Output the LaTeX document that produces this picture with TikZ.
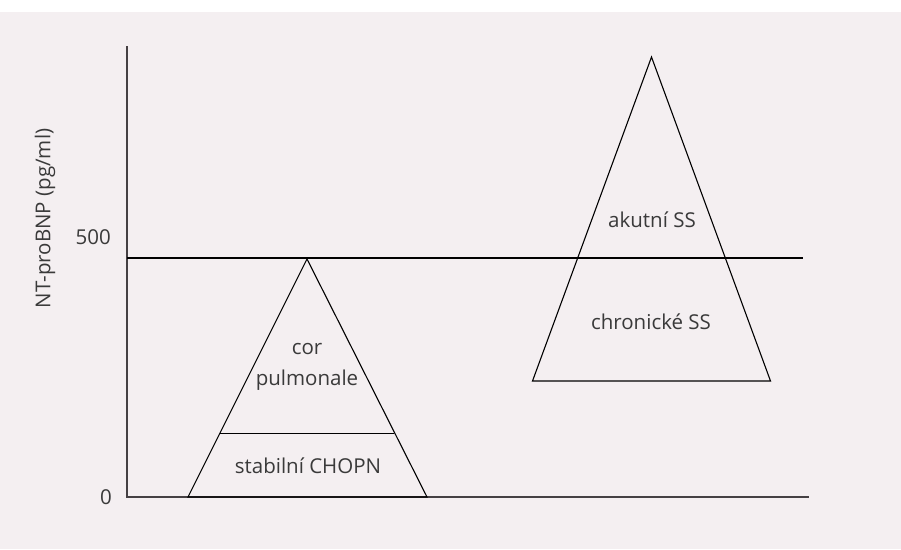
\documentclass[tikz,border=0pt]{standalone}
\usepackage{fontspec}
\setmainfont{Open Sans}
\definecolor{bgpink}{HTML}{F4EFF1}
\definecolor{axisgray}{HTML}{454043}
\definecolor{txtgray}{HTML}{3A3A3A}
\tikzset{
  lbl/.style={font=\fontsize{20.5}{24}\selectfont, text=txtgray, inner sep=0pt, align=center},
  axisline/.style={draw=axisgray, line width=1.5pt},
  thinline/.style={draw=black, line width=1.1pt, line join=miter},
}
\begin{document}
\begin{tikzpicture}[x=1pt,y=-1pt]
\useasboundingbox (0,0) rectangle (901,549);
\fill[white] (0,0) rectangle (901,12);
\fill[bgpink] (0,12) rectangle (901,549);
% axes
\coordinate (ytop) at (127,46);
\coordinate (orig) at (127,497);
\coordinate (xend) at (809,497);
\draw[axisline] (ytop) -- (orig) -- (xend);
% 500 line
\coordinate (l500a) at (127,258);
\coordinate (l500b) at (803,258);
\draw[thinline] (l500a) -- (l500b);
% triangle 1
\coordinate (t1a) at (307,259);
\coordinate (t1l) at (188,497);
\coordinate (t1r) at (427,497);
\draw[thinline] (t1l) -- (t1a) -- (t1r) -- cycle;
\coordinate (m1l) at (220,433.5);
\coordinate (m1r) at (394,433.5);
\draw[thinline] (m1l) -- (m1r);
% triangle 2
\coordinate (t2a) at (651.5,57);
\coordinate (t2l) at (532.5,381);
\coordinate (t2r) at (770.5,381);
\draw[thinline] (t2l) -- (t2a) -- (t2r) -- cycle;
% labels
\node[lbl] (cor) at (307,349) {cor};
\node[lbl] (pulm) at (307,380) {pulmonale};
\node[lbl] (chopn) at (308,466) {stabilní CHOPN};
\node[lbl] (akut) at (652,220) {akutní SS};
\node[lbl] (chron) at (651,322) {chronické SS};
\node[lbl, anchor=east] (v500) at (111,237) {500};
\node[lbl] (v0) at (106,497) {0};
\node[lbl, rotate=90] (ylab) at (45,218.5) {NT-proBNP (pg/ml)};
\end{tikzpicture}
\end{document}
